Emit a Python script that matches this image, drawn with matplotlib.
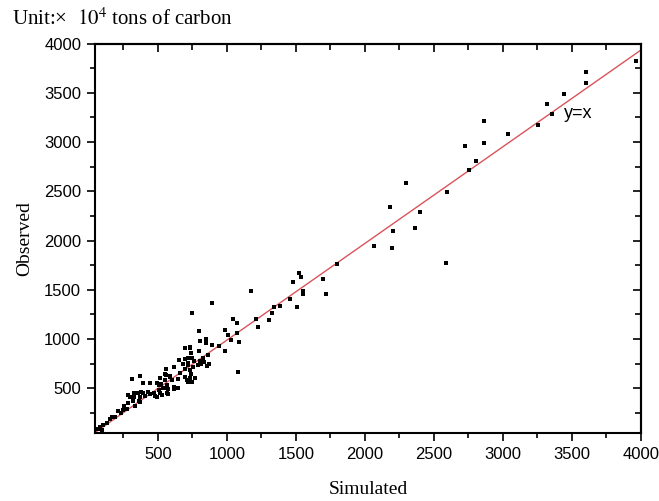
import matplotlib
matplotlib.use("Agg")
import matplotlib.pyplot as plt
from matplotlib.ticker import MultipleLocator

# values (simulated, observed), 10^4 tons of carbon
simulated = [
    3965, 3600, 3600, 3445, 3320, 3355, 3255, 3035, 2865, 2865,
    2725, 2805, 2755, 2300, 2595, 2180, 2400, 2360, 2205, 2065,
    2195, 2590, 1795, 1175, 1520, 1535, 1480, 1695, 1715, 1555,
    1555, 1460, 1510, 1385, 1340, 1325, 1210, 1305, 1225, 895,
    745, 1045, 1075, 990, 800, 1070, 1010, 850, 805, 1030,
    1085, 850, 895, 945, 700, 730, 990, 795, 740, 865,
    750, 700, 655, 805, 760, 835, 870, 685, 720, 790,
    615, 560, 695, 1080, 730, 740, 560, 700, 770, 645,
    585, 515, 710, 620, 565, 525, 645, 565, 735, 720,
    830, 855, 810, 755, 715, 660, 735, 720, 745, 555,
    590, 555, 600, 370, 395, 445, 315, 325, 325, 355,
    380, 390, 370, 405, 430, 470, 445, 480, 515, 510,
    565, 540, 505, 575, 615, 570, 530, 495, 295, 285,
    320, 360, 370, 335, 285, 255, 275, 250, 230, 215,
    190, 155, 130, 105, 495, 165, 80, 65, 95,
]
observed = [
    3825, 3710, 3600, 3490, 3385, 3280, 3175, 3080, 3215, 2990,
    2955, 2810, 2715, 2580, 2490, 2345, 2285, 2130, 2095, 1940,
    1925, 1770, 1765, 1490, 1665, 1625, 1575, 1605, 1460, 1490,
    1460, 1405, 1325, 1330, 1325, 1260, 1200, 1195, 1125, 1370,
    1260, 1205, 1165, 1095, 1085, 1065, 1040, 1000, 980, 985,
    965, 955, 935, 925, 905, 905, 880, 880, 860, 840,
    810, 795, 790, 780, 780, 770, 745, 745, 735, 735,
    715, 695, 695, 660, 685, 645, 635, 610, 600, 590,
    610, 600, 580, 515, 505, 540, 505, 450, 915, 805,
    805, 730, 745, 720, 755, 655, 600, 565, 565, 645,
    625, 585, 585, 625, 555, 555, 590, 450, 415, 455,
    465, 450, 415, 420, 465, 450, 440, 425, 455, 535,
    530, 500, 485, 490, 490, 445, 430, 410, 415, 430,
    375, 370, 365, 320, 350, 320, 285, 275, 245, 265,
    205, 185, 150, 130, 555, 205, 105, 85, 75,
]

# reference line as drawn (ends a little below the top-right corner)
line_x = [45, 4000]
line_y = [50, 3935]

x_limits = (45, 4000)
y_limits = (48, 4000)

plt.rcParams["font.family"] = ["Liberation Sans", "DejaVu Sans"]
plt.rcParams["mathtext.fontset"] = "stix"

fig = plt.figure(figsize=(6.59, 5.01), dpi=100)
ax = fig.add_axes([0.1442, 0.1363, 0.8285, 0.7767])

ax.plot(line_x, line_y, color="#d9545a", linewidth=1.0, zorder=2)
ax.scatter(simulated, observed, marker="s", s=5, color="black",
           linewidths=0, zorder=3)
ax.text(3440, 3295, "y=x", fontsize=13, ha="left", va="center")

ax.set_xlim(*x_limits)
ax.set_ylim(*y_limits)
ax.xaxis.set_major_locator(MultipleLocator(500))
ax.xaxis.set_minor_locator(MultipleLocator(250))
ax.yaxis.set_major_locator(MultipleLocator(500))
ax.yaxis.set_minor_locator(MultipleLocator(250))

for spine in ax.spines.values():
    spine.set_linewidth(1.5)

# outward ticks on bottom/left, mirrored inward ticks on top/right
ax.tick_params(which="both", bottom=True, left=True, top=False, right=False,
               direction="out", width=1.2, labelsize=12, pad=4)
ax.tick_params(which="major", length=6)
ax.tick_params(which="minor", length=3.5)
ax2 = ax.secondary_xaxis("top")
ax2.xaxis.set_major_locator(MultipleLocator(500))
ax2.xaxis.set_minor_locator(MultipleLocator(250))
ax2.tick_params(which="both", direction="in", width=1.2, labeltop=False)
ax2.tick_params(which="major", length=6)
ax2.tick_params(which="minor", length=4)
ax3 = ax.secondary_yaxis("right")
ax3.yaxis.set_major_locator(MultipleLocator(500))
ax3.yaxis.set_minor_locator(MultipleLocator(250))
ax3.tick_params(which="both", direction="in", width=1.2, labelright=False)
ax3.tick_params(which="major", length=6)
ax3.tick_params(which="minor", length=4)
ax2.spines["top"].set_linewidth(1.5)
ax3.spines["right"].set_linewidth(1.5)

ax.set_xlabel("Simulated", fontsize=14, family="Liberation Serif", labelpad=14)
ax.set_ylabel("Observed", fontsize=14, family="Liberation Serif", labelpad=8)

fig.text(0.018, 0.962, "Unit:\u00d7  $10^4$ tons of carbon", fontsize=15,
         family="Liberation Serif", ha="left", va="center")

fig.savefig("out.png", dpi=100)
